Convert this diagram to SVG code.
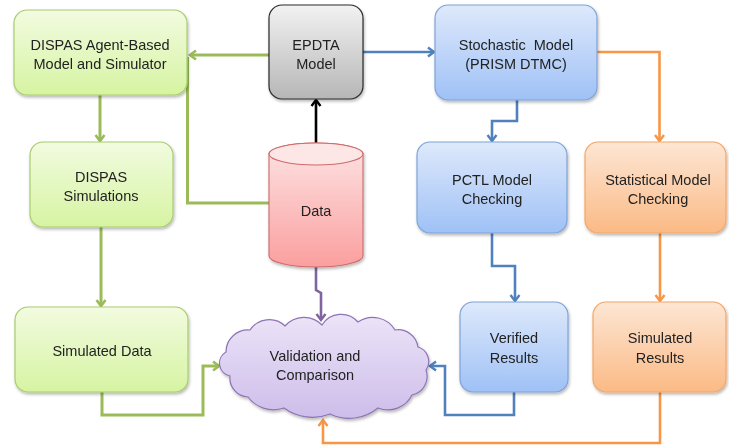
<svg xmlns="http://www.w3.org/2000/svg" width="729" height="446" viewBox="0 0 729 446">
  <style>
    text { font-family: "Liberation Sans", Arial, sans-serif; font-size: 14.5px; fill: #222; text-anchor: middle; }
    .green { fill: url(#gGreen); stroke: #a9cc6e; stroke-width: 1.2; }
    .blue { fill: url(#gBlue); stroke: #7ea3d8; stroke-width: 1.2; }
    .orange { fill: url(#gOrange); stroke: #f3a668; stroke-width: 1.2; }
    .grey { fill: url(#gGrey); stroke: #2a2a2a; stroke-width: 1.2; }
    .red { fill: url(#gRed); stroke: #cf6a6a; stroke-width: 1.1; }
    .cloud { fill: url(#gPurple); stroke: #8d74b4; stroke-width: 1.2; }
    .c { fill: none; stroke-width: 3; stroke-linejoin: miter; }
    .cg { stroke: #9bbb59; }
    .cb { stroke: #4f81bd; stroke-width: 2.6; }
    .co { stroke: #f79646; stroke-width: 2.6; }
    .cp { stroke: #8064a2; stroke-width: 2.6; }
    .ck { stroke: #000; stroke-width: 2.6; }
  </style>
  <defs>
    <linearGradient id="gGreen" x1="0" y1="0" x2="0" y2="1">
      <stop offset="0" stop-color="#f2fbe0"/>
      <stop offset="1" stop-color="#d6f4a2"/>
    </linearGradient>
    <linearGradient id="gBlue" x1="0" y1="0" x2="0" y2="1">
      <stop offset="0" stop-color="#dee9fb"/>
      <stop offset="1" stop-color="#9fc1f6"/>
    </linearGradient>
    <linearGradient id="gOrange" x1="0" y1="0" x2="0" y2="1">
      <stop offset="0" stop-color="#fde6d4"/>
      <stop offset="1" stop-color="#fbba85"/>
    </linearGradient>
    <linearGradient id="gGrey" x1="0" y1="0" x2="0" y2="1">
      <stop offset="0" stop-color="#f2f2f2"/>
      <stop offset="1" stop-color="#b6b6b6"/>
    </linearGradient>
    <linearGradient id="gRed" x1="0" y1="0" x2="0" y2="1">
      <stop offset="0" stop-color="#fde3e3"/>
      <stop offset="1" stop-color="#fb9f9f"/>
    </linearGradient>
    <linearGradient id="gPurple" x1="0" y1="0" x2="0" y2="1">
      <stop offset="0" stop-color="#ece4f8"/>
      <stop offset="1" stop-color="#cdbdea"/>
    </linearGradient>
    <filter id="shadow" x="-10%" y="-10%" width="125%" height="130%">
      <feDropShadow dx="1" dy="2" stdDeviation="1.5" flood-color="#000" flood-opacity="0.28"/>
    </filter>
    <marker id="aG" viewBox="0 0 12 12" markerWidth="12" markerHeight="12" refX="9" refY="6" orient="auto" markerUnits="userSpaceOnUse">
      <path d="M3,1.5 L9,6 L3,10.5" fill="none" stroke="#9bbb59" stroke-width="2.6"/>
    </marker>
    <marker id="aB" viewBox="0 0 12 12" markerWidth="12" markerHeight="12" refX="9" refY="6" orient="auto" markerUnits="userSpaceOnUse">
      <path d="M3,1.5 L9,6 L3,10.5" fill="none" stroke="#4f81bd" stroke-width="2.4"/>
    </marker>
    <marker id="aO" viewBox="0 0 12 12" markerWidth="12" markerHeight="12" refX="9" refY="6" orient="auto" markerUnits="userSpaceOnUse">
      <path d="M3,1.5 L9,6 L3,10.5" fill="none" stroke="#f79646" stroke-width="2.4"/>
    </marker>
    <marker id="aP" viewBox="0 0 12 12" markerWidth="12" markerHeight="12" refX="9" refY="6" orient="auto" markerUnits="userSpaceOnUse">
      <path d="M3,1.5 L9,6 L3,10.5" fill="none" stroke="#8064a2" stroke-width="2.4"/>
    </marker>
    <marker id="aK" viewBox="0 0 12 12" markerWidth="12" markerHeight="12" refX="9" refY="6" orient="auto" markerUnits="userSpaceOnUse">
      <path d="M3,1.5 L9,6 L3,10.5" fill="none" stroke="#000" stroke-width="2.4"/>
    </marker>
  </defs>

  <rect width="729" height="446" fill="#fff"/>

  <!-- connectors -->
  <g id="connectors">
    <!-- green: DISPAS chain -->
    <path class="c cg" d="M269,55 H190" marker-end="url(#aG)"/>
    <path class="c cg" d="M269,203 H187.5 V57"/>
    <path class="c cg" d="M100,95 V141" marker-end="url(#aG)"/>
    <path class="c cg" d="M101,227 V306" marker-end="url(#aG)"/>
    <path class="c cg" d="M102,392 V415 H203 V366 H219" marker-end="url(#aG)"/>
    <!-- black: data feeds EPDTA -->
    <path class="c ck" d="M316,143 V100" marker-end="url(#aK)"/>
    <!-- blue: PRISM chain -->
    <path class="c cb" d="M363,52 H434" marker-end="url(#aB)"/>
    <path class="c cb" d="M517,100 V121 H492 V141" marker-end="url(#aB)"/>
    <path class="c cb" d="M492,233 V266 H515 V301" marker-end="url(#aB)"/>
    <path class="c cb" d="M514,392 V415 H445 V366 H430" marker-end="url(#aB)"/>
    <!-- orange: statistical chain -->
    <path class="c co" d="M597,52 H659.5 V141" marker-end="url(#aO)"/>
    <path class="c co" d="M660,233 V301" marker-end="url(#aO)"/>
    <path class="c co" d="M660,392 V443 H323 V420" marker-end="url(#aO)"/>
    <!-- purple: data into validation -->
    <path class="c cp" d="M316,267 V290 L321,293 V320" marker-end="url(#aP)"/>
  </g>

  <g id="dispas-model" filter="url(#shadow)">
    <rect class="green" x="14" y="10" width="173" height="85" rx="13"/>
    <text x="100" y="50">DISPAS Agent-Based</text>
    <text x="100" y="69">Model and Simulator</text>
  </g>

  <g id="epdta-model" filter="url(#shadow)">
    <rect class="grey" x="269" y="5" width="94" height="94" rx="13"/>
    <text x="316" y="50">EPDTA</text>
    <text x="316" y="69">Model</text>
  </g>

  <g id="stochastic-model" filter="url(#shadow)">
    <rect class="blue" x="435" y="5" width="162" height="95" rx="13"/>
    <text x="516" y="50" xml:space="preserve">Stochastic  Model</text>
    <text x="516" y="69">(PRISM DTMC)</text>
  </g>

  <g id="dispas-simulations" filter="url(#shadow)">
    <rect class="green" x="30" y="142" width="143" height="85" rx="13"/>
    <text x="101" y="182">DISPAS</text>
    <text x="101" y="201">Simulations</text>
  </g>

  <g id="data" filter="url(#shadow)">
    <path class="red" d="M269,154 V256 A47,11 0 0 0 363,256 V154 A47,11 0 0 0 269,154 Z"/>
    <ellipse cx="316" cy="154" rx="47" ry="11" fill="#fde6e6" stroke="#cf6a6a" stroke-width="1.1"/>
    <text x="316" y="216">Data</text>
  </g>

  <g id="pctl-checking" filter="url(#shadow)">
    <rect class="blue" x="417" y="142" width="150" height="91" rx="13"/>
    <text x="492" y="185">PCTL Model</text>
    <text x="492" y="204">Checking</text>
  </g>

  <g id="statistical-checking" filter="url(#shadow)">
    <rect class="orange" x="585" y="142" width="141" height="91" rx="13"/>
    <text x="658" y="185">Statistical Model</text>
    <text x="658" y="204">Checking</text>
  </g>

  <g id="simulated-data" filter="url(#shadow)">
    <rect class="green" x="15" y="307" width="173" height="85" rx="13"/>
    <text x="102" y="356">Simulated Data</text>
  </g>

  <g id="validation" filter="url(#shadow)">
    <path class="cloud" d="M226,352
      A22,22 0 0 1 250,330
      A23,23 0 0 1 285,326
      A25,25 0 0 1 322,325
      A22.5,22.5 0 0 1 358,322
      A26,26 0 0 1 395,330
      A20,20 0 0 1 418,347
      A15,15 0 0 1 426,370
      A19,19 0 0 1 412,395
      A27,27 0 0 1 378,408
      A45,45 0 0 1 330,414
      A48,48 0 0 1 284,408
      A32,32 0 0 1 248,397
      A19,19 0 0 1 230,376
      A13,13 0 0 1 226,352 Z"/>
    <text x="315" y="361">Validation and</text>
    <text x="315" y="380">Comparison</text>
  </g>

  <g id="verified-results" filter="url(#shadow)">
    <rect class="blue" x="460" y="302" width="108" height="90" rx="13"/>
    <text x="514" y="343">Verified</text>
    <text x="514" y="363">Results</text>
  </g>

  <g id="simulated-results" filter="url(#shadow)">
    <rect class="orange" x="593" y="302" width="133" height="90" rx="13"/>
    <text x="660" y="343">Simulated</text>
    <text x="660" y="363">Results</text>
  </g>
</svg>
